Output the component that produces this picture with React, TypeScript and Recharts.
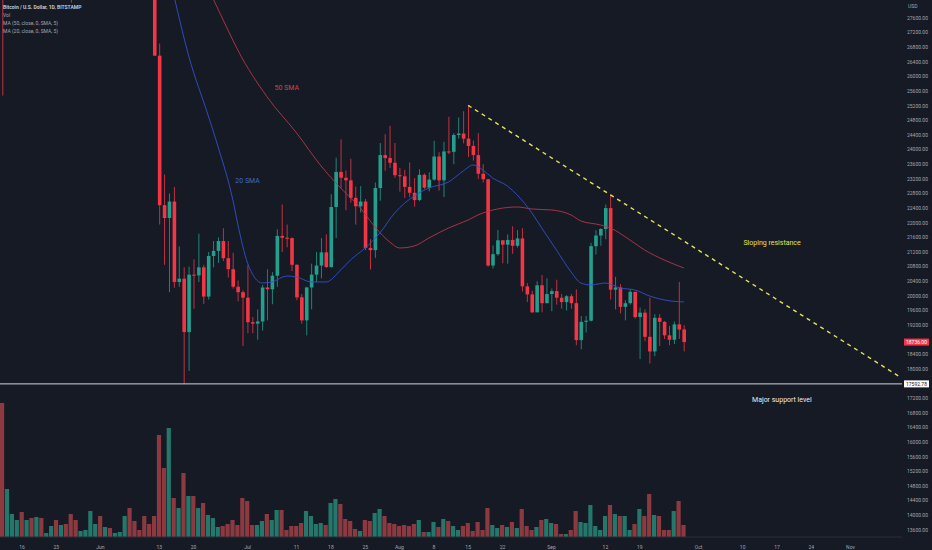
import {
  ComposedChart, Bar, Line, XAxis, YAxis, ReferenceLine, ReferenceDot,
} from "recharts";

const BG = "#161a25";
const UP = "#22a08d";
const DOWN = "#f23645";
const VOL_UP = "#23776b";
const VOL_DOWN = "#8c3a40";
const TEXT = "#a3a6af";
const FONT = "Roboto, sans-serif";

// BTC/USD daily, Bitstamp, 2022-05-12 .. 2022-09-28
const firstDay = Date.UTC(2022, 4, 12);
const dayCount = 184; // axis runs on to 2022-11-11

const opens = [
  29030, 28950, 29280, 30080, 31300, 29860, 30420, 28700, 30300, 29200,
  29430, 30300, 29100, 29650, 29540, 29200, 28600, 28990, 29450, 31720,
  31790, 29800, 30450, 29700, 29860, 29910, 31370, 31130, 30200, 30100,
  29090, 28420, 26570, 22480, 22130, 22580, 20380, 20470, 19010, 20580,
  20560, 20780, 19980, 21090, 21230, 21500, 21030, 20730, 20250, 20100,
  19950, 19280, 19240, 19300, 20230, 20180, 20550, 21640, 21590, 21580,
  20850, 19960, 19330, 20230, 20580, 20830, 21190, 20790, 22430, 23390,
  23230, 23160, 22680, 22450, 22580, 21310, 21250, 22950, 23850, 23770,
  23640, 23300, 23270, 22980, 22820, 22620, 23310, 22960, 23180, 23810,
  23160, 23950, 23940, 24400, 24440, 24300, 24100, 23850, 23340, 23190,
  20830, 21140, 21520, 21400, 21530, 21370, 21570, 20260, 20040, 19550,
  20290, 19800, 20050, 20130, 19950, 19830, 19990, 19800, 18790, 19290,
  19320, 21360, 21650, 21830, 22400, 20170, 20230, 19700, 19800, 20110,
  19420, 19540, 18880, 18480, 19400, 19290, 18920, 18800, 19220, 19080,
];
const highs = [
  30030, 31000, 30300, 31400, 31300, 30750, 30650, 30500, 30750, 29600,
  30450, 30650, 29800, 30150, 29850, 29380, 29200, 29550, 32200, 32400,
  31980, 30650, 30700, 29950, 30150, 31750, 31560, 31350, 30650, 30350,
  29450, 28540, 26900, 23320, 22800, 22980, 21350, 20780, 20800, 21000,
  21700, 20850, 21200, 21500, 21600, 21850, 21500, 21180, 20420, 20150,
  20850, 19420, 19630, 20300, 20730, 20650, 21820, 22500, 21950, 21600,
  20860, 20050, 20250, 20880, 21200, 21580, 21680, 22780, 23780, 24280,
  23430, 23750, 22990, 23000, 22650, 21550, 23100, 24180, 24420, 24650,
  24180, 23500, 23450, 23650, 23220, 23460, 23350, 23380, 24240, 23930,
  24210, 24900, 24450, 24880, 25050, 25210, 24250, 24450, 23600, 23200,
  21380, 21800, 21520, 21680, 21900, 21800, 21850, 20350, 20140, 20400,
  20570, 20480, 20200, 20440, 20050, 20020, 20050, 20180, 19450, 19450,
  21450, 21800, 21850, 22500, 22780, 20520, 20320, 19880, 20180, 20110,
  19680, 19630, 19950, 19500, 19500, 19310, 19180, 19300, 20380, 19200,
];
const lows = [
  25480, 28700, 28600, 29450, 29100, 29450, 28660, 28700, 28750, 29080,
  29380, 28900, 28700, 29300, 28020, 28280, 28550, 28800, 29300, 31200,
  29300, 29600, 29300, 29500, 29500, 29900, 29250, 29850, 29950, 28850,
  28100, 26560, 21950, 20850, 20100, 20220, 20250, 17593, 17950, 19650,
  20380, 19780, 19900, 20780, 20900, 20950, 20500, 20200, 19850, 18630,
  18980, 18980, 18800, 19050, 19330, 19770, 20250, 21200, 21330, 20680,
  19880, 19240, 18920, 19630, 20380, 20480, 20760, 20770, 21580, 22940,
  22340, 22550, 21950, 22280, 21250, 20720, 21040, 22600, 23420, 23500,
  23230, 22850, 22680, 22700, 22440, 22590, 22920, 22860, 23150, 22880,
  22700, 23880, 23600, 24300, 24170, 23800, 23700, 23200, 23100, 20800,
  20750, 21100, 20890, 20880, 21150, 21320, 20120, 19830, 19530, 19550,
  19550, 19800, 19580, 19760, 19650, 19600, 19650, 18650, 18540, 19000,
  19300, 21130, 21370, 21550, 19900, 19630, 19520, 19330, 19760, 19380,
  18270, 18760, 18150, 18350, 18630, 18820, 18650, 18680, 18820, 18480,
];
const closes = [
  28950, 29280, 30080, 31300, 29860, 30420, 28700, 30300, 29200, 29430,
  30300, 29100, 29650, 29540, 29200, 28600, 28990, 29450, 31720, 31790,
  29800, 30450, 29700, 29860, 29910, 31370, 31130, 30200, 30100, 29090,
  28420, 26570, 22480, 22130, 22580, 20380, 20470, 19010, 20580, 20560,
  20780, 19980, 21090, 21230, 21500, 21030, 20730, 20250, 20100, 19950,
  19280, 19240, 19300, 20230, 20180, 20550, 21640, 21590, 21580, 20850,
  19960, 19330, 20230, 20580, 20830, 21190, 20790, 22430, 23390, 23230,
  23160, 22680, 22450, 22580, 21310, 21250, 22950, 23850, 23770, 23640,
  23300, 23270, 22980, 22820, 22620, 23310, 22960, 23180, 23810, 23160,
  23950, 23940, 24400, 24440, 24300, 24100, 23850, 23340, 23190, 20830,
  21140, 21520, 21400, 21530, 21370, 21570, 20260, 20040, 19550, 20290,
  19800, 20050, 20130, 19950, 19830, 19990, 19800, 18790, 19290, 19320,
  21360, 21650, 21830, 22400, 20170, 20230, 19700, 19800, 20110, 19420,
  19540, 18880, 18480, 19400, 19290, 18920, 18800, 19220, 19080, 18736,
];
const volumes = [
  13400, 4800, 2300, 1700, 2500, 1700, 1900, 2000, 1900, 400,
  1100, 1700, 1200, 1300, 2300, 1700, 600, 700, 2600, 1300,
  2100, 1000, 900, 400, 500, 2100, 2900, 1600, 700, 2100,
  1300, 2100, 10200, 6900, 10900, 3900, 2900, 6400, 4100, 4100,
  2900, 3400, 2200, 1900, 1000, 1100, 1300, 1700, 1200, 3900,
  3600, 1200, 1200, 1600, 2300, 1700, 2700, 2700, 700, 1100,
  1100, 1400, 2600, 2100, 1300, 1400, 1200, 3400, 3800, 3300,
  1800, 1600, 800, 600, 1700, 1600, 2400, 2800, 2100, 1400,
  1300, 1100, 1200, 1100, 1300, 1700, 500, 500, 1500, 1000,
  1800, 1600, 1100, 700, 1100, 1400, 600, 1500, 700, 2900,
  1200, 900, 1200, 1000, 1500, 900, 2800, 1100, 700, 1000,
  1700, 1800, 1400, 1300, 300, 300, 700, 2600, 1500, 1400,
  3200, 1100, 700, 2100, 3200, 2300, 2100, 2100, 700, 1300,
  2800, 2100, 4300, 2200, 2100, 700, 700, 2600, 3600, 1200,
];

// moving averages: [day index, value]
const sma50: [number, number][] = [
  [43, 28120], [46, 27272], [48, 26725], [54, 25440], [60, 24455],
  [65, 23552], [69, 22950], [73, 22404], [76, 21884], [79, 21474],
  [81, 21310], [84, 21364], [87, 21583], [91, 21857], [95, 22075],
  [97, 22212], [101, 22376], [105, 22431], [108, 22376], [112, 22349],
  [116, 22212], [118, 22048], [122, 21939], [124, 21857], [128, 21528],
  [131, 21255], [135, 20981], [139, 20763],
];
const sma20: [number, number][] = [
  [35, 28200], [38, 26560], [42, 24920], [44, 24072], [47, 22622],
  [48, 21966], [50, 20900], [53, 20352], [55, 20380], [58, 20544],
  [60, 20516], [63, 20380], [66, 20380], [69, 20708], [71, 20981],
  [74, 21310], [77, 21720], [80, 22267], [84, 22732], [87, 22950],
  [91, 23115], [94, 23415], [96, 23580], [98, 23443], [100, 23224],
  [103, 23005], [105, 22759], [108, 22267], [110, 21857], [113, 21255],
  [116, 20653], [118, 20352], [120, 20298], [123, 20352], [126, 20216],
  [129, 20161], [132, 19997], [135, 19888], [139, 19833],
];

const xTicks: [string, string][] = [
  ["2022-05-16", "16"], ["2022-05-23", "23"], ["2022-06-01", "Jun"],
  ["2022-06-13", "13"], ["2022-06-20", "20"], ["2022-07-01", "Jul"],
  ["2022-07-11", "11"], ["2022-07-18", "18"], ["2022-07-25", "25"],
  ["2022-08-01", "Aug"], ["2022-08-08", "8"], ["2022-08-15", "15"],
  ["2022-08-22", "22"], ["2022-09-01", "Sep"], ["2022-09-12", "12"],
  ["2022-09-19", "19"], ["2022-10-01", "Oct"], ["2022-10-10", "10"],
  ["2022-10-17", "17"], ["2022-10-24", "24"], ["2022-11-01", "Nov"],
];
const yTicks = [
  27600, 27200, 26800, 26400, 26000, 25600, 25200, 24800, 24400, 24000,
  23600, 23200, 22800, 22400, 22000, 21600, 21200, 20800, 20400, 20000,
  19600, 19200, 18400, 18000, 17200, 16800, 16400, 16000, 15600, 15200,
  14800, 14400, 14000, 13600,
];

const supportLevel = 17592.78;
const lastPrice = 18736;
const trendStart = { day: 95, price: 25210 };
const trendEnd = { day: 183, price: 17790 };

const dates = Array.from({ length: dayCount }, (_, i) =>
  new Date(firstDay + i * 86400000).toISOString().slice(0, 10));

const rows = dates.map((date, i) => {
  const row: any = { date };
  if (i < closes.length) {
    row.open = opens[i];
    row.high = highs[i];
    row.low = lows[i];
    row.close = closes[i];
    row.range = [lows[i], highs[i]];
    row.vol = volumes[i];
  }
  return row;
});
sma50.forEach(([i, v]) => { rows[i].sma50 = v; });
sma20.forEach(([i, v]) => { rows[i].sma20 = v; });

const tickLabel = Object.fromEntries(xTicks);

function Candle(props: any) {
  const { x, y, width, height, payload } = props;
  if (!payload || payload.high == null) return null;
  const top = Math.min(y, y + height);
  const h = Math.abs(height);
  const span = payload.high - payload.low;
  const k = span > 0 ? h / span : 0;
  const yO = top + (payload.high - payload.open) * k;
  const yC = top + (payload.high - payload.close) * k;
  const color = payload.close >= payload.open ? UP : DOWN;
  const cx = x + width / 2;
  return (
    <g>
      <line x1={cx} x2={cx} y1={top} y2={top + h} stroke={color} strokeWidth={0.8} />
      <rect x={x} y={Math.min(yO, yC)} width={width} height={Math.max(Math.abs(yC - yO), 1)} fill={color} />
    </g>
  );
}

function VolBar(props: any) {
  const { x, y, width, height, payload } = props;
  if (!payload || payload.vol == null) return null;
  const fill = payload.close >= payload.open ? VOL_UP : VOL_DOWN;
  return <rect x={x} y={y} width={width} height={height} fill={fill} />;
}

function priceTag(text: string, bg: string, fg: string) {
  return (p: any) => {
    const vb = p.viewBox || {};
    const right = (vb.x || 0) + (vb.width || 0);
    return (
      <g>
        <rect x={right + 2} y={vb.y - 3.5} width={25} height={7} fill={bg} />
        <text x={right + 14.5} y={vb.y + 1.8} textAnchor="middle" fontSize={5} fontFamily={FONT} fill={fg}>{text}</text>
      </g>
    );
  };
}

function note(value: string, fill: string) {
  return { value, fill, fontSize: 7, fontFamily: FONT, position: "center" as const };
}

export default function App() {
  return (
    <div style={{ position: "fixed", left: 0, top: 0, width: 932, height: 550, background: BG, overflow: "hidden" }}>
      <ComposedChart width={932} height={550} data={rows} margin={{ top: 0, right: 0, bottom: 0, left: 0 }}>
        <XAxis
          xAxisId="p" dataKey="date" ticks={xTicks.map(t => t[0])} interval={0}
          tickFormatter={(d: string) => tickLabel[d] || ""} tickLine={false}
          axisLine={{ stroke: "#2a2e39" }} height={13} tickMargin={2}
          tick={{ fill: TEXT, fontSize: 5, fontFamily: FONT }}
        />
        <XAxis xAxisId="v" dataKey="date" hide />
        <YAxis
          yAxisId="p" orientation="right" width={30} domain={[13405, 28092]} allowDataOverflow
          ticks={yTicks} interval={0} tickFormatter={(v: number) => v.toFixed(2)}
          tickLine={false} axisLine={false} tickSize={3} tickMargin={2}
          tick={{ fill: TEXT, fontSize: 5, fontFamily: FONT }}
        />
        <YAxis yAxisId="v" hide domain={[0, 53700]} allowDataOverflow />

        <Bar xAxisId="v" yAxisId="v" dataKey="vol" barSize={4.2} shape={VolBar} isAnimationActive={false} />
        <Bar xAxisId="p" yAxisId="p" dataKey="range" barSize={3.6} shape={Candle} isAnimationActive={false} />

        <Line xAxisId="p" yAxisId="p" dataKey="sma50" type="monotone" stroke="#b8354a" strokeWidth={0.9}
          dot={false} connectNulls isAnimationActive={false} />
        <Line xAxisId="p" yAxisId="p" dataKey="sma20" type="monotone" stroke="#3250cc" strokeWidth={0.9}
          dot={false} connectNulls isAnimationActive={false} />

        <ReferenceLine xAxisId="p" yAxisId="p" y={supportLevel} stroke="#d1d4dc" strokeWidth={1}
          label={priceTag("17592.78", "#ffffff", "#131722")} />
        <ReferenceLine xAxisId="p" yAxisId="p" y={lastPrice} stroke="transparent"
          label={priceTag("18736.00", DOWN, "#ffffff")} />
        <ReferenceLine
          xAxisId="p" yAxisId="p" stroke="#e4e25a" strokeWidth={1.4} strokeDasharray="4 4"
          segment={[
            { x: dates[trendStart.day], y: trendStart.price },
            { x: dates[trendEnd.day], y: trendEnd.price },
          ]}
        />

        <ReferenceDot xAxisId="p" yAxisId="p" x={dates[58]} y={25686} r={0} stroke="none" label={note("50 SMA", "#d3424e")} />
        <ReferenceDot xAxisId="p" yAxisId="p" x={dates[50]} y={23142} r={0} stroke="none" label={note("20 SMA", "#3c66d9")} />
        <ReferenceDot xAxisId="p" yAxisId="p" x={dates[157]} y={21446} r={0} stroke="none" label={note("Sloping resistance", "#e6e24e")} />
        <ReferenceDot xAxisId="p" yAxisId="p" x={dates[159]} y={17152} r={0} stroke="none" label={note("Major support level", "#ececec")} />
      </ComposedChart>

      <svg width={932} height={550} style={{ position: "absolute", left: 0, top: 0, pointerEvents: "none" }}>
        <g fontFamily={FONT} fontSize={5}>
          <text x={3} y={8.5} fill="#d1d4dc" fontWeight={600}>Bitcoin / U.S. Dollar, 1D, BITSTAMP</text>
          <text x={3} y={16.5} fill={TEXT}>Vol</text>
          <text x={3} y={24.5} fill={TEXT}>MA (50, close, 0, SMA, 5)</text>
          <text x={3} y={32.5} fill={TEXT}>MA (20, close, 0, SMA, 5)</text>
          <text x={908} y={7.5} fill={TEXT}>USD</text>
        </g>
      </svg>
    </div>
  );
}
